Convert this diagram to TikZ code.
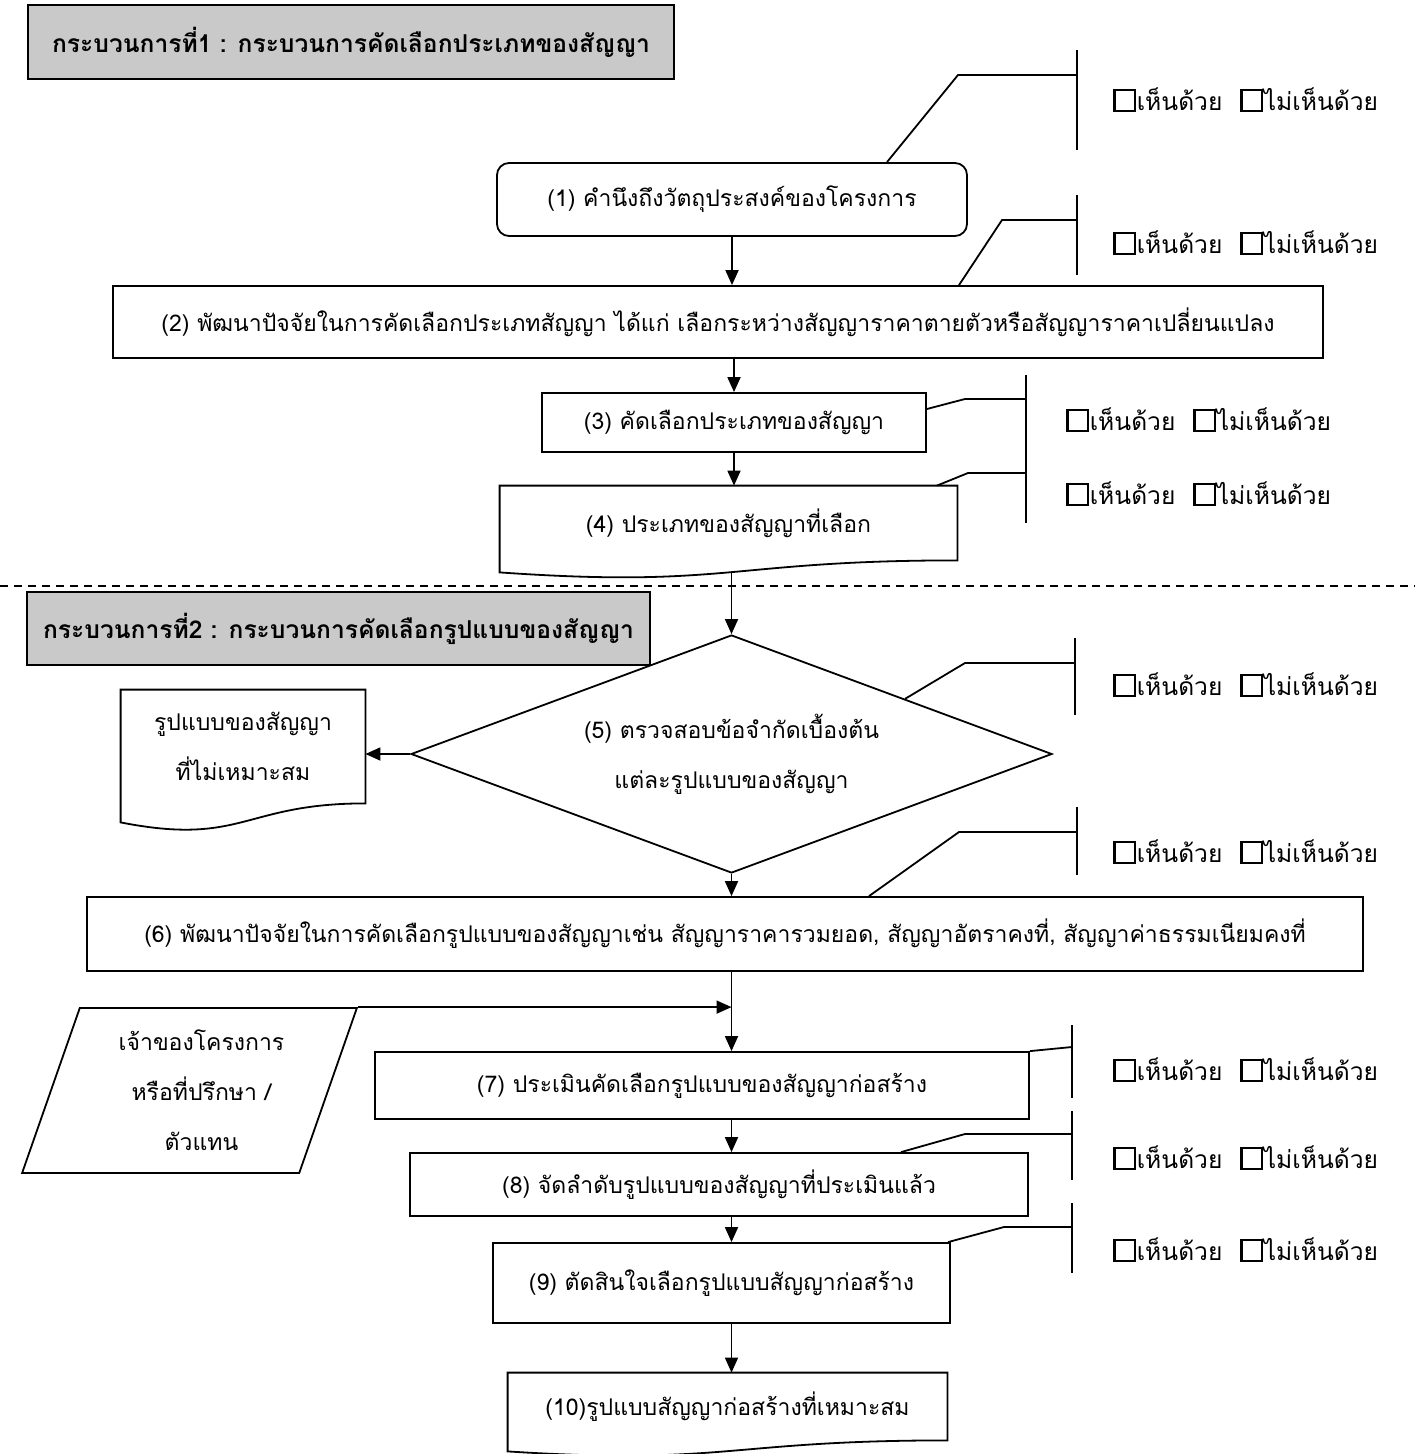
\documentclass[tikz,border=0pt]{standalone}
\usepackage{fontspec}
\setmainfont{Liberation Serif}
\newfontfamily\thai[Script=Thai]{Loma}
\usetikzlibrary{calc,arrows.meta,shapes.geometric}
\setlength\fboxsep{0pt}
\setlength\fboxrule{1.1pt}
\newcommand\cbox{\fbox{\hspace{9pt}\rule{0pt}{9.5pt}}\hspace{0.5pt}}
\newcommand\agree{\cbox เห็นด้วย\hspace{9pt}\cbox ไม่เห็นด้วย}
\newcommand\docshape[3]{\draw[ln] (#1.north west) -- (#1.north east) -- (#1.south east) .. controls (#1.south) and ($(#1.south)+(0,#2)$) .. ($(#1.south west)+(0,#3)$) -- cycle;}
\begin{document}
\begin{tikzpicture}[x=0.5pt,y=-0.5pt,
  every node/.style={font=\thai\fontsize{11.5}{25}\selectfont, inner sep=0pt},
  ln/.style={line width=0.9pt},
  box/.style={draw, line width=0.9pt, rectangle},
  title/.style={draw, line width=1pt, fill=gray!42, font=\thai\bfseries\fontsize{12.3}{14}\selectfont},
  doc/.style={rectangle, draw=none},
  arr/.style={line width=0.9pt, -{Triangle[length=7.5pt,width=6.5pt]}},
  vote/.style={anchor=west, font=\thai\fontsize{12.3}{14}\selectfont},
]
\path[use as bounding box, fill=white] (0,0) rectangle (1415,1454);

% titles
\node[title, minimum width=323pt, minimum height=37pt] (t1) at (351,42) {กระบวนการที่1 : กระบวนการคัดเลือกประเภทของสัญญา};
\node[title, minimum width=311.5pt, minimum height=36.5pt] (t2) at (338.5,628.5) {กระบวนการที่2 : กระบวนการคัดเลือกรูปแบบของสัญญา};

% dashed separator
\coordinate (dl) at (0,586);
\coordinate (dr) at (1415,586);
\draw[dashed, line width=0.6pt, dash pattern=on 4pt off 3pt] (dl) -- (dr);

% process 1
\node[box, rounded corners=6pt, minimum width=235pt, minimum height=36.5pt] (b1) at (732,199.5) {(1) คำนึงถึงวัตถุประสงค์ของโครงการ};
\node[box, minimum width=605pt, minimum height=36pt] (b2) at (718,322) {(2) พัฒนาปัจจัยในการคัดเลือกประเภทสัญญา ได้แก่ เลือกระหว่างสัญญาราคาตายตัวหรือสัญญาราคาเปลี่ยนแปลง};
\node[box, minimum width=192pt, minimum height=29.5pt] (b3) at (734,422.5) {(3) คัดเลือกประเภทของสัญญา};
\node[doc, minimum width=228.5pt, minimum height=37pt] (d4) at (728.5,523) {(4) ประเภทของสัญญาที่เลือก};
\docshape{d4}{28}{12}

% process 2
\node[diamond, draw, line width=0.9pt, aspect=2.69, minimum width=320.5pt, minimum height=119pt, align=center] (d5) at (731.5,754) {(5) ตรวจสอบข้อจำกัดเบื้องต้น\\แต่ละรูปแบบของสัญญา};
\node[doc, minimum width=122pt, minimum height=56.5pt, align=center] (dx) at (243,746.5) {รูปแบบของสัญญา\\ที่ไม่เหมาะสม};
\docshape{dx}{43}{19}
\node[box, minimum width=638pt, minimum height=37pt] (b6) at (725,934) {(6) พัฒนาปัจจัยในการคัดเลือกรูปแบบของสัญญาเช่น สัญญาราคารวมยอด, สัญญาอัตราคงที่, สัญญาค่าธรรมเนียมคงที่};
\node[trapezium, draw, line width=0.9pt, trapezium left angle=67.6, trapezium right angle=112.4, trapezium stretches=true, minimum width=167.5pt, minimum height=82.5pt, align=center] (p) at (189.5,1090.5) {\hspace{12pt}เจ้าของโครงการ\\\hspace{12pt}หรือที่ปรึกษา /\\\hspace{12pt}ตัวแทน};
\node[box, minimum width=327pt, minimum height=33.5pt] (b7) at (702,1085.5) {(7) ประเมินคัดเลือกรูปแบบของสัญญาก่อสร้าง};
\node[box, minimum width=309pt, minimum height=31.5pt] (b8) at (719,1184.5) {(8) จัดลำดับรูปแบบของสัญญาที่ประเมินแล้ว};
\node[box, minimum width=228.5pt, minimum height=40pt] (b9) at (721.5,1283) {(9) ตัดสินใจเลือกรูปแบบสัญญาก่อสร้าง};
\node[doc, minimum width=219.5pt, minimum height=33.5pt] (d10) at (727.5,1406.5) {(10)รูปแบบสัญญาก่อสร้างที่เหมาะสม};
\docshape{d10}{25}{11}

% flow arrows
\draw[arr] (b1.south) -- (b1.south |- b2.north);
\draw[arr] (b3.north |- b2.south) -- (b3.north);
\draw[arr] (b3.south) -- (b3.south |- d4.north);
\coordinate (d4b) at ($(d4.south)+(0,12)$);
\draw[arr] (d4b -| d5.north) -- (d5.north);
\draw[arr] (d5.west) -- (d5.west -| dx.east);
\draw[arr] (d5.south) -- (d5.south |- b6.north);
\draw[arr] (b6.south -| d5.south) -- (b7.north -| d5.south);
\draw[arr] (p.top right corner) -- (p.top right corner -| d5.south);
\draw[arr] (b7.south -| d5.south) -- (b8.north -| d5.south);
\draw[arr] (b8.south -| d5.south) -- (b9.north -| d5.south);
\draw[arr] (b9.south -| d5.south) -- (d10.north -| d5.south);

% opinion brackets
\coordinate (k1) at (958,75);  \coordinate (s1) at (887,163);
\coordinate (v1a) at (1077,50); \coordinate (v1b) at (1077,150);
\draw[ln] (v1a) -- (v1b);
\draw[ln] (s1 |- b1.north) -- (k1) -- (k1 -| v1a);
\node[vote] (r1) at (1113,100) {\agree};

\coordinate (k2) at (1002,220); \coordinate (s2) at (959,286);
\coordinate (v2a) at (1077,195); \coordinate (v2b) at (1077,275);
\draw[ln] (v2a) -- (v2b);
\draw[ln] (s2 |- b2.north) -- (k2) -- (k2 -| v2a);
\node[vote] (r2) at (1113,243) {\agree};

\coordinate (v3a) at (1026,375); \coordinate (v3b) at (1026,523);
\draw[ln] (v3a) -- (v3b);
\coordinate (k3) at (965,399); \coordinate (s3) at (926,409);
\draw[ln] (b3.east |- s3) -- (k3) -- (k3 -| v3a);
\node[vote] (r3) at (1066,420) {\agree};
\coordinate (k4) at (968,473); \coordinate (s4) at (937,486);
\draw[ln] (s4 |- d4.north) -- (k4) -- (k4 -| v3a);
\node[vote] (r4) at (1066,494) {\agree};

\coordinate (v5a) at (1075,638); \coordinate (v5b) at (1075,715);
\draw[ln] (v5a) -- (v5b);
\coordinate (k5) at (965,663);
\draw[ln] ($(d5.north)!0.54!(d5.east)$) -- (k5) -- (k5 -| v5a);
\node[vote] (r5) at (1113,685) {\agree};

\coordinate (v6a) at (1077,807); \coordinate (v6b) at (1077,875);
\draw[ln] (v6a) -- (v6b);
\coordinate (k6) at (959,832); \coordinate (s6) at (869,897);
\draw[ln] (s6 |- b6.north) -- (k6) -- (k6 -| v6a);
\node[vote] (r6) at (1113,852) {\agree};

\coordinate (v7a) at (1072,1025); \coordinate (v7b) at (1072,1098);
\draw[ln] (v7a) -- (v7b);
\coordinate (k7) at (1072,1047);
\draw[ln] (b7.north east) -- (k7);
\node[vote] (r7) at (1113,1070) {\agree};

\coordinate (v8a) at (1072,1111); \coordinate (v8b) at (1072,1180);
\draw[ln] (v8a) -- (v8b);
\coordinate (k8) at (965,1134); \coordinate (s8) at (901,1153);
\draw[ln] (s8 |- b8.north) -- (k8) -- (k8 -| v8a);
\node[vote] (r8) at (1113,1158) {\agree};

\coordinate (v9a) at (1072,1203); \coordinate (v9b) at (1072,1273);
\draw[ln] (v9a) -- (v9b);
\coordinate (k9) at (1004,1227); \coordinate (s9) at (948,1243);
\draw[ln] (s9 |- b9.north) -- (k9) -- (k9 -| v9a);
\node[vote] (r9) at (1113,1250) {\agree};
\end{tikzpicture}
\end{document}
